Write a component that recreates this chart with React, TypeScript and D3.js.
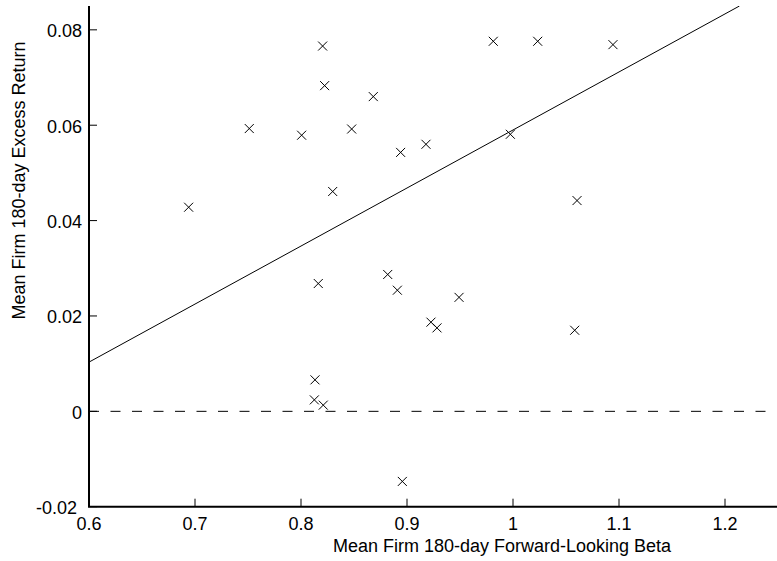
import React from "react";
import * as d3 from "d3";

// Firm-level observations: mean 180-day forward-looking beta vs mean excess return
const betas = [
  0.694, 0.7512, 0.8204, 0.8223, 0.8682, 0.8006, 0.8478, 0.894, 0.9179,
  0.8299, 0.9814, 0.9975, 1.0233, 1.0943, 1.0604, 0.8163, 0.8818, 0.8909,
  0.9491, 0.9226, 0.9283, 0.8132, 0.8126, 0.821, 0.8956, 1.0582,
];
const returns = [
  0.0428, 0.0593, 0.0766, 0.0683, 0.066, 0.0579, 0.0592, 0.0543, 0.056,
  0.0461, 0.0776, 0.0581, 0.0776, 0.0769, 0.0442, 0.0268, 0.0287, 0.0254,
  0.0239, 0.0187, 0.0175, 0.0066, 0.0024, 0.0013, -0.0147, 0.017,
];

// Fitted line: return = intercept + slope * beta
const fitIntercept = -0.0627;
const fitSlope = 0.1217;

const xTicks = [0.6, 0.7, 0.8, 0.9, 1.0, 1.1, 1.2];
const yTicks = [-0.02, 0, 0.02, 0.04, 0.06, 0.08];

const W = 777;
const H = 561;
const left = 89;
const right = 778;
const top = 6;
const bottom = 506.7;
const FONT = "'Liberation Sans', Arial, Helvetica, sans-serif";

export default function App() {
  const x = d3.scaleLinear().domain([0.6, 1.25]).range([left, right]);
  const y = d3.scaleLinear().domain([-0.02, 0.085]).range([bottom, top]);

  const fitLine = d3
    .line<number>()
    .x((b) => x(b))
    .y((b) => y(fitIntercept + fitSlope * b));
  const fitEnd = (0.085 - fitIntercept) / fitSlope;

  const fmtX = (v: number) => (v === 1 ? "1" : d3.format(".1f")(v));
  const fmtY = (v: number) =>
    v === 0 ? "0" : d3.format(".2f")(v).replace("\u2212", "-");

  const m = 4.5;

  return (
    <svg
      width={W}
      height={H}
      style={{ position: "absolute", left: 0, top: 0, background: "#fff" }}
      fontFamily={FONT}
    >
      <defs>
        <clipPath id="plot-area">
          <rect x={left} y={top} width={W - left} height={bottom - top} />
        </clipPath>
      </defs>

      <g clipPath="url(#plot-area)">
        {/* zero reference */}
        <line
          x1={left}
          x2={W}
          y1={y(0)}
          y2={y(0)}
          stroke="#000"
          strokeWidth={1}
          strokeDasharray="10 11.5"
        />
        {/* fitted line */}
        <path
          d={fitLine([0.6, fitEnd]) || ""}
          fill="none"
          stroke="#000"
          strokeWidth={1}
        />
        {/* x markers */}
        {betas.map((b, i) => {
          const cx = x(b);
          const cy = y(returns[i]);
          return (
            <path
              key={i}
              d={`M${cx - m},${cy - m}L${cx + m},${cy + m}M${cx - m},${cy + m}L${cx + m},${cy - m}`}
              stroke="#000"
              strokeWidth={1}
              fill="none"
            />
          );
        })}
      </g>

      {/* axes */}
      <line x1={left} x2={left} y1={top} y2={bottom} stroke="#000" strokeWidth={2} />
      <line x1={left - 1} x2={W} y1={bottom} y2={bottom} stroke="#000" strokeWidth={2} />

      {xTicks.map((t) => (
        <g key={t}>
          <line x1={x(t)} x2={x(t)} y1={bottom} y2={bottom - 8} stroke="#000" strokeWidth={1} />
          <text x={x(t)} y={530} textAnchor="middle" fontSize={18} fill="#000">
            {fmtX(t)}
          </text>
        </g>
      ))}
      {yTicks.map((t, i) => (
        <g key={t}>
          <line x1={left} x2={left + 8} y1={y(t)} y2={y(t)} stroke="#000" strokeWidth={1} />
          <text
            x={i === 0 ? 77 : 82}
            y={y(t) + 7.5}
            textAnchor="end"
            fontSize={18}
            fill="#000"
          >
            {fmtY(t)}
          </text>
        </g>
      ))}

      <text x={502} y={552} textAnchor="middle" fontSize={18} fill="#000">
        Mean Firm 180-day Forward-Looking Beta
      </text>
      <text
        transform={`translate(25,180.5) rotate(-90)`}
        textAnchor="middle"
        fontSize={18}
        fill="#000"
      >
        Mean Firm 180-day Excess Return
      </text>
    </svg>
  );
}
